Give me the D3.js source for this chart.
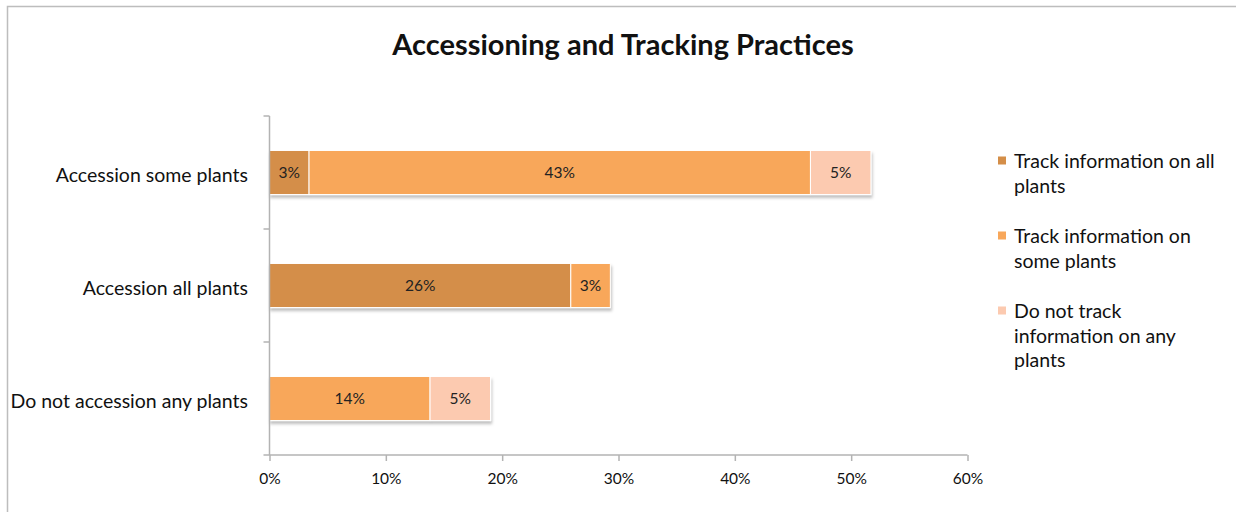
<!DOCTYPE html>
<html>
<head>
<meta charset="utf-8">
<script src="https://cdn.jsdelivr.net/npm/d3@7"></script>
<style>
  html, body { margin: 0; padding: 0; background: #fff; }
  svg { display: block; font-family: Lato, "Open Sans", sans-serif; }
</style>
</head>
<body>
<svg id="chart" width="1236" height="512"></svg>
<script>
// Share of respondents (%) by accessioning practice and tracking practice
const categories = ["Accession some plants", "Accession all plants", "Do not accession any plants"];
const seriesNames = ["Track information on all plants", "Track information on some plants", "Do not track information on any plants"];
const trackAll  = [3.4, 25.9, 0];
const trackSome = [43.1, 3.4, 13.8];
const trackNone = [5.2, 0, 5.2];
const xTicks = [0, 10, 20, 30, 40, 50, 60];
const legendLines = [["Track information on all", "plants"], ["Track information on", "some plants"], ["Do not track", "information on any", "plants"]];
const colors = ["#d48e48", "#f8a75a", "#fccab0"];

const svg = d3.select("#chart");

// chart frame
svg.append("rect")
  .attr("x", 7.5).attr("y", 6.5).attr("width", 1240).attr("height", 520)
  .attr("fill", "none").attr("stroke", "#bdbdbd").attr("stroke-width", 1.5);

// title
svg.append("text")
  .attr("x", 623).attr("y", 55)
  .attr("text-anchor", "middle")
  .attr("font-size", 29).attr("font-weight", 700).attr("fill", "#111")
  .text("Accessioning and Tracking Practices");

const margin = { left: 269.5, right: 967.5, top: 116, bottom: 455 };
const x = d3.scaleLinear().domain([0, 60]).range([margin.left, margin.right]);
const y = d3.scaleBand().domain(categories).range([margin.top, margin.bottom]).paddingInner(0.61).paddingOuter(0.305);

// stacked table
const rows = categories.map((c, i) => ({ cat: c, s0: trackAll[i], s1: trackSome[i], s2: trackNone[i] }));
const stack = d3.stack().keys(["s0", "s1", "s2"])(rows);

const defs = svg.append("defs");
const f = defs.append("filter").attr("id", "shadow").attr("x", "-5%").attr("y", "-20%").attr("width", "110%").attr("height", "160%");
f.append("feDropShadow").attr("dx", 1).attr("dy", 3).attr("stdDeviation", 1.6)
  .attr("flood-color", "#000").attr("flood-opacity", 0.25);

const gBars = svg.append("g").attr("filter", "url(#shadow)");
stack.forEach((layer, li) => {
  gBars.selectAll(null)
    .data(layer.filter(d => d[1] - d[0] > 0))
    .join("rect")
    .attr("x", d => x(d[0]))
    .attr("y", d => y(d.data.cat))
    .attr("width", d => x(d[1]) - x(d[0]))
    .attr("height", y.bandwidth())
    .attr("fill", colors[li])
    .attr("stroke", "#fff")
    .attr("stroke-width", 1);
});

// value labels
const fmt = v => d3.format(".0f")(v) + "%";
stack.forEach((layer) => {
  svg.selectAll(null)
    .data(layer.filter(d => d[1] - d[0] > 0))
    .join("text")
    .attr("x", d => (x(d[0]) + x(d[1])) / 2)
    .attr("y", d => y(d.data.cat) + y.bandwidth() / 2)
    .attr("dy", "0.36em")
    .attr("text-anchor", "middle")
    .attr("font-size", 15.5).attr("fill", "#222")
    .text(d => fmt(d[1] - d[0]));
});

// y axis: line, boundary ticks, category labels
const axisColor = "#b3b3b3";
const gy = svg.append("g");
gy.append("line")
  .attr("x1", margin.left).attr("x2", margin.left)
  .attr("y1", margin.top).attr("y2", margin.bottom)
  .attr("stroke", axisColor).attr("stroke-width", 1.5);
gy.selectAll(null).data(categories.map((c, i) => margin.top + i * y.step()))
  .join("line")
  .attr("x1", margin.left - 6).attr("x2", margin.left)
  .attr("y1", d => d).attr("y2", d => d)
  .attr("stroke", axisColor).attr("stroke-width", 1.5);
gy.selectAll(null).data(categories)
  .join("text")
  .attr("x", 248)
  .attr("y", d => y(d) + y.bandwidth() / 2 + 3)
  .attr("dy", "0.35em")
  .attr("text-anchor", "end")
  .attr("font-size", 19.5).attr("fill", "#111")
  .text(d => d);

// x axis
const gx = svg.append("g").attr("transform", `translate(0,${margin.bottom})`)
  .call(d3.axisBottom(x).tickValues(xTicks).tickSize(6).tickSizeOuter(0).tickFormat(d => d + "%"));
gx.select(".domain").attr("stroke", axisColor).attr("stroke-width", 1.5)
  .attr("d", `M${margin.left - 6},0H${margin.right}`);
gx.selectAll(".tick line").attr("stroke", axisColor).attr("stroke-width", 1.5);
gx.selectAll(".tick text").attr("font-size", 15.5).attr("fill", "#111").attr("dy", "1.3em")
  .attr("font-family", "Lato, 'Open Sans', sans-serif");

// legend
const gl = svg.append("g");
legendLines.forEach((lines, i) => {
  const top = 161 + i * 75;
  gl.append("rect").attr("x", 998).attr("y", top - 4.5).attr("width", 8).attr("height", 8).attr("fill", colors[i]);
  const t = gl.append("text").attr("x", 1014).attr("y", top).attr("font-size", 19.5).attr("fill", "#111");
  lines.forEach((ln, j) => {
    t.append("tspan").attr("x", 1014).attr("y", top + j * 24.7).attr("dy", "0.35em").text(ln);
  });
});
</script>
</body>
</html>
